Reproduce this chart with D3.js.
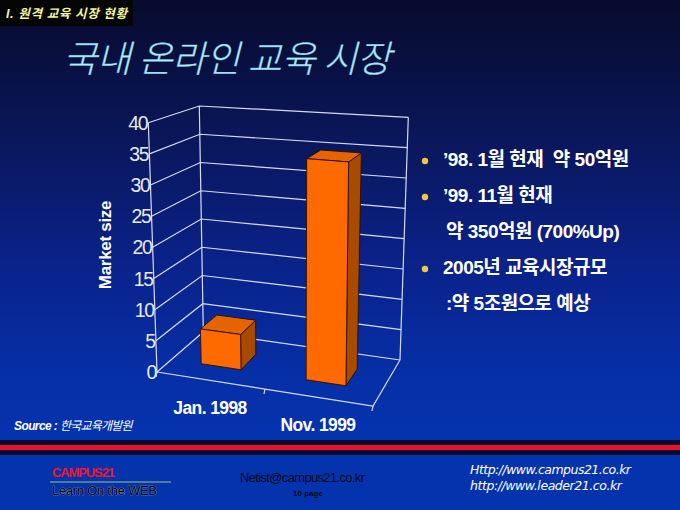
<!DOCTYPE html>
<html><head><meta charset="utf-8">
<script src="https://cdn.jsdelivr.net/npm/d3@7/dist/d3.min.js"></script>
<style>html,body{margin:0;padding:0;background:#06103a;}svg{display:block;}</style>
</head><body>
<script>
// ---- data ----
const categories = ["Jan. 1998", "Nov. 1999"];
const marketSize = [5.7, 35];
const yTicks = [0, 5, 10, 15, 20, 25, 30, 35, 40];
const yDomain = [0, 40];
const headerLabel = "I. 원격 교육 시장 현황";
const titleText = "국내 온라인 교육 시장";
const axisTitle = "Market size";
const bulletLines = [
  {bullet: true,  text: "’98. 1월 현재  약 50억원"},
  {bullet: true,  text: "’99. 11월 현재"},
  {bullet: false, text: "약 350억원 (700%Up)"},
  {bullet: true,  text: "2005년 교육시장규모"},
  {bullet: false, text: ":약 5조원으로 예상"}
];
const sourceLabel = "Source : ";
const sourceName = "한국교육개발원";

const W = 680, H = 510;
const svg = d3.select("body").append("svg").attr("width", W).attr("height", H);
const defs = svg.append("defs");
const bg = defs.append("linearGradient").attr("id","bg").attr("x1",0).attr("y1",0).attr("x2",0).attr("y2",1);
[[0,"#070b2c"],[0.3,"#0a1658"],[0.6,"#0a228a"],[0.85,"#062fa6"],[1,"#0533ae"]].forEach(s=>bg.append("stop").attr("offset",s[0]).attr("stop-color",s[1]));
svg.append("rect").attr("width",W).attr("height",440).attr("fill","url(#bg)");
svg.append("rect").attr("y",440).attr("width",W).attr("height",70).attr("fill","#0533ae");

// header label
svg.append("rect").attr("x",0).attr("y",0).attr("width",133).attr("height",26).attr("fill","#050505");
svg.append("text").attr("x",6).attr("y",18).text(headerLabel)
  .attr("font-family","'Liberation Sans','Noto Sans CJK KR',sans-serif").attr("font-weight","bold")
  .attr("font-style","italic").attr("font-size",12.5).attr("fill","#f4f49a").attr("textLength",121);

// title
svg.append("text").attr("x",63).attr("y",72).text(titleText)
  .attr("font-family","'Noto Sans CJK KR',sans-serif").attr("font-weight",300)
  .attr("font-style","italic").attr("font-size",37).attr("fill","#b4eefc")
  .attr("stroke","#6fb8d8").attr("stroke-width",0.4).attr("textLength",328);

// ---- 3D frame (trilinear projection of unit cube u,w,t) ----
const C = {
  "000":[157,372], "100":[373,406], "010":[203.3,332], "110":[400,360],
  "001":[148.3,122.7], "101":[376.6,139.7], "011":[199.3,106], "111":[408.3,117.3]
};
function P(u,w,t){
  let x=0,y=0;
  for (const i of [0,1]) for (const j of [0,1]) for (const k of [0,1]) {
    const wt=(i?u:1-u)*(j?w:1-w)*(k?t:1-t);
    const c=C[""+i+j+k]; x+=wt*c[0]; y+=wt*c[1];
  }
  return [x,y];
}
const yScale = d3.scaleLinear().domain(yDomain).range([0,1]);
const xBand = d3.scaleBand().domain(categories).range([0,1]).paddingInner(0.62).paddingOuter(0.31);
const depth = [0.32, 0.69];
const line = d3.line();
const gridColor = "#d6dcee";

const frame = svg.append("g").attr("fill","none").attr("stroke",gridColor).attr("stroke-width",1.2);
yTicks.forEach(v=>{
  const t=yScale(v);
  frame.append("path").attr("d", line([P(0,0,t),P(0,1,t),P(1,1,t)]));
});
frame.append("path").attr("d", line([P(0,0,0),P(0,0,1)]));
frame.append("path").attr("d", line([P(0,1,0),P(0,1,1)]));
frame.append("path").attr("d", line([P(1,1,0),P(1,1,1)]));
frame.append("path").attr("d", line([P(0,0,0),P(1,0,0),P(1,1,0)]));
[0,0.5,1].forEach(u=>{
  const p=P(u,0,0);
  frame.append("path").attr("d", line([p,[p[0]-1,p[1]+5]]));
});

// y tick labels
svg.append("g").selectAll("text").data(yTicks).join("text")
  .attr("x",v=>P(0,0,yScale(v))[0]-1).attr("y",v=>P(0,0,yScale(v))[1])
  .attr("dy","0.36em").attr("text-anchor","end")
  .attr("font-family","'Liberation Sans',Arial,sans-serif").attr("font-size",19.5)
  .attr("letter-spacing",-1.3).attr("fill","#e8e8f0").text(d=>d);

// axis title
svg.append("text").attr("transform","translate(105,245) rotate(-90)")
  .attr("text-anchor","middle").attr("dominant-baseline","central")
  .attr("font-family","'Liberation Sans',Arial,sans-serif").attr("font-weight","bold")
  .attr("font-size",17).attr("letter-spacing",-0.3).attr("fill","#ffffff").text(axisTitle);

// bars
const bars = categories.map((c,i)=>({cat:c, value:marketSize[i]}));
const bg2 = svg.append("g").attr("stroke","#2a0e00").attr("stroke-width",0.9).attr("stroke-linejoin","round");
bars.forEach(d=>{
  const u0=xBand(d.cat)-0.015, u1=u0+xBand.bandwidth(), w0=depth[0], w1=depth[1], t=yScale(d.value);
  const poly = pts => "M"+pts.map(p=>p.join(",")).join("L")+"Z";
  bg2.append("path").attr("d",poly([P(u1,w0,0),P(u1,w1,0),P(u1,w1,t),P(u1,w0,t)])).attr("fill","#a84a00");
  bg2.append("path").attr("d",poly([P(u0,w0,t),P(u1,w0,t),P(u1,w1,t),P(u0,w1,t)])).attr("fill","#e66400");
  bg2.append("path").attr("d",poly([P(u0,w0,0),P(u1,w0,0),P(u1,w0,t),P(u0,w0,t)])).attr("fill","#ff6a00");
});

// category labels
svg.append("g").selectAll("text").data(categories).join("text")
  .attr("x",c=>P(xBand(c)+xBand.bandwidth()/2,0,0)[0]-1)
  .attr("y",c=>P(xBand(c)+xBand.bandwidth()/2,0,0)[1]+33.5)
  .attr("text-anchor","middle")
  .attr("font-family","'Liberation Sans',Arial,sans-serif").attr("font-weight","bold")
  .attr("font-size",17.5).attr("letter-spacing",-0.6).attr("fill","#ffffff").text(c=>c);

// source
const src = svg.append("text").attr("x",14).attr("y",430).attr("fill","#ffffff")
  .attr("font-family","'Liberation Sans','Noto Sans CJK KR',sans-serif").attr("font-size",12).attr("font-style","italic");
src.append("tspan").attr("font-weight","bold").attr("letter-spacing",-0.6).text(sourceLabel);
src.append("tspan").attr("letter-spacing",-0.8).text(sourceName);

// bullets
const bl = svg.append("g");
bulletLines.forEach((d,i)=>{
  const yb = 166 + i*36;
  if (d.bullet) bl.append("circle").attr("cx",425).attr("cy",yb-5).attr("r",3.2).attr("fill","#f2c640");
  bl.append("text").attr("x", d.bullet?443:446).attr("y",yb).attr("fill","#ffffff")
    .attr("font-family","'Liberation Sans','Noto Sans CJK KR',sans-serif").attr("font-weight","bold")
    .attr("font-size",19).attr("letter-spacing",-0.5).style("white-space","pre").text(d.text);
});

// stripe
svg.append("rect").attr("x",0).attr("y",440).attr("width",W).attr("height",5).attr("fill","#050a30");
svg.append("rect").attr("x",0).attr("y",445).attr("width",W).attr("height",5).attr("fill","#ee1028");
svg.append("rect").attr("x",0).attr("y",450).attr("width",W).attr("height",5).attr("fill","#050a30");

// footer
const ff = "'Liberation Sans Narrow','Liberation Sans',Arial,sans-serif";
svg.append("text").attr("x",52).attr("y",477).attr("font-family",ff).attr("font-size",13).attr("font-weight","bold")
  .attr("fill","#e81a2a").attr("textLength",63).text("CAMPUS21");
svg.append("line").attr("x1",50).attr("x2",171).attr("y1",482).attr("y2",482).attr("stroke","#4f7e8c").attr("stroke-width",2);
svg.append("text").attr("x",52).attr("y",495).attr("font-family",ff).attr("font-size",13)
  .attr("fill","#000000").attr("stroke","#9aa8c8").attr("stroke-width",0.6).attr("paint-order","stroke")
  .attr("textLength",105).text("Learn On the WEB");
svg.append("text").attr("x",240).attr("y",482).attr("font-family",ff).attr("font-size",13)
  .attr("fill","#0a0a14").attr("textLength",125).text("Netist@campus21.co.kr");
svg.append("text").attr("x",308).attr("y",496).attr("text-anchor","middle").attr("font-family",ff)
  .attr("font-size",8).attr("font-weight","bold").attr("fill","#0a0a14").text("10 page");
svg.append("text").attr("x",470).attr("y",474).attr("font-family","'DejaVu Sans',sans-serif").attr("font-size",12.5)
  .attr("font-style","italic").attr("fill","#ffffff").attr("textLength",161).text("Http://www.campus21.co.kr");
svg.append("text").attr("x",470).attr("y",490).attr("font-family","'DejaVu Sans',sans-serif").attr("font-size",12.5)
  .attr("font-style","italic").attr("fill","#ffffff").attr("textLength",152).text("http://www.leader21.co.kr");
</script>
</body></html>
